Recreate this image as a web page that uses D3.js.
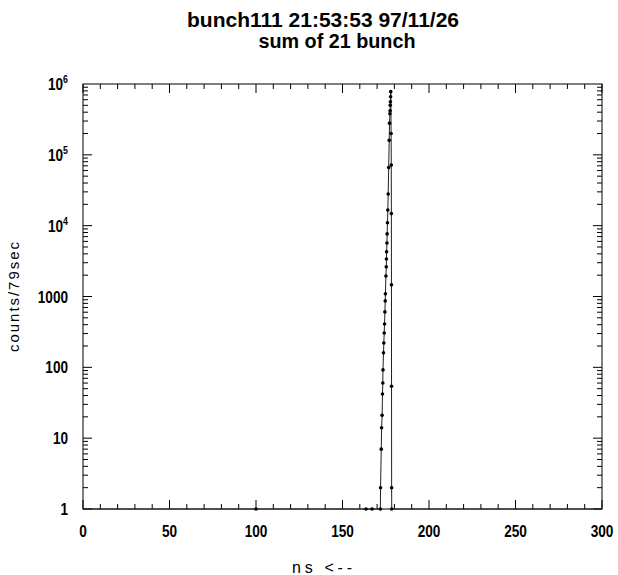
<!DOCTYPE html>
<html>
<head>
<meta charset="utf-8">
<script src="https://cdn.jsdelivr.net/npm/d3@7"></script>
<style>
  body { margin: 0; background: #fff; }
  svg text { font-family: "Liberation Sans Narrow", "Liberation Sans", Arial, sans-serif; fill: #000; }
</style>
</head>
<body>
<div id="chart"></div>
<script>
// histogram: time bin (ns) and counts per bin
var binNs = [0, 100, 161, 163.6, 167.1, 171.9, 172.0, 172.4, 172.6, 172.9, 173.1, 173.3, 173.4,
  173.7, 173.9, 174.1, 174.3, 174.5, 174.7, 174.8, 175.1, 175.3, 175.4, 175.5, 175.7, 175.8,
  176.0, 176.2, 176.4, 176.7, 177.0, 177.2, 177.4, 177.5, 177.6, 177.7, 177.8, 177.9,
  178.1, 178.2, 178.25, 178.3, 178.35, 178.4, 178.45, 300];
var binCounts = [0, 1, 0, 1, 1, 1, 2, 7, 14, 21, 42, 60, 92,
  160, 221, 306, 410, 606, 867, 1090, 1950, 2620, 3390, 4270, 5700, 7650,
  11000, 16600, 28000, 66000, 160000, 280000, 380000, 420000, 500000, 560000, 660000, 780000,
  200000, 72000, 14800, 1460, 54, 2, 1, 0];

var xTicks = [0, 50, 100, 150, 200, 250, 300];
var yTicks = [1, 10, 100, 1000, 1e4, 1e5, 1e6];
var yTickLabels = ["1", "10", "100", "1000", "10|4", "10|5", "10|6"];

var width = 618, height = 575;
var pLeft = 83, pRight = 602, pTop = 84, pBottom = 509;
var squeeze = 0.8; // narrow look of the plotter font

var svg = d3.select("#chart").append("svg")
  .attr("width", width)
  .attr("height", height);

var x = d3.scaleLinear().domain([0, 300]).range([pLeft, pRight]);
var y = d3.scaleLog().domain([1, 1e6]).range([pBottom, pTop]).clamp(true);

// title
svg.append("text").attr("x", 323).attr("y", 27)
  .attr("text-anchor", "middle").attr("font-size", 20).attr("font-weight", "bold")
  .attr("textLength", 272).attr("lengthAdjust", "spacingAndGlyphs")
  .text("bunch111 21:53:53 97/11/26");
svg.append("text").attr("x", 337).attr("y", 48)
  .attr("text-anchor", "middle").attr("font-size", 20).attr("font-weight", "bold")
  .attr("textLength", 157).attr("lengthAdjust", "spacingAndGlyphs")
  .text("sum of 21 bunch");

// frame
svg.append("rect")
  .attr("x", pLeft).attr("y", pTop)
  .attr("width", pRight - pLeft).attr("height", pBottom - pTop)
  .attr("fill", "none").attr("stroke", "#000").attr("stroke-width", 1);

// x ticks, inward, bottom and top
var xMinor = d3.range(0, 301, 10);
var gx = svg.append("g").attr("stroke", "#000").attr("stroke-width", 1);
xMinor.forEach(function(v) {
  var len = (v % 50 == 0) ? 9 : 5;
  gx.append("line").attr("x1", x(v)).attr("x2", x(v)).attr("y1", pBottom).attr("y2", pBottom - len);
  gx.append("line").attr("x1", x(v)).attr("x2", x(v)).attr("y1", pTop).attr("y2", pTop + len);
});

// y ticks (log), inward, left and right
var gy = svg.append("g").attr("stroke", "#000").attr("stroke-width", 1);
for (var e = 0; e < 6; e++) {
  for (var m = 1; m < 10; m++) {
    var v = m * Math.pow(10, e);
    var len = (m == 1) ? 9 : 5;
    gy.append("line").attr("x1", pLeft).attr("x2", pLeft + len).attr("y1", y(v)).attr("y2", y(v));
    gy.append("line").attr("x1", pRight).attr("x2", pRight - len).attr("y1", y(v)).attr("y2", y(v));
  }
}

// x tick labels
svg.selectAll(".xl").data(xTicks).enter().append("text")
  .attr("class", "xl")
  .attr("transform", function(d) { return "translate(" + x(d) + ",537) scale(" + squeeze + ",1)"; })
  .attr("text-anchor", "middle")
  .attr("font-size", 17).attr("font-weight", "bold")
  .text(function(d) { return d; });

// y tick labels, powers drawn with a superscript
svg.selectAll(".yl").data(yTicks).enter().append("text")
  .attr("class", "yl")
  .attr("transform", function(d) { return "translate(68," + (y(d) + 6) + ") scale(" + squeeze + ",1)"; })
  .attr("text-anchor", "end")
  .attr("font-size", 17).attr("font-weight", "bold")
  .each(function(d, i) {
    var parts = yTickLabels[i].split("|");
    var t = d3.select(this);
    if (parts.length == 1) {
      t.text(parts[0]);
    } else {
      t.append("tspan").text(parts[0]);
      t.append("tspan").attr("dy", -7).attr("font-size", 11).text(parts[1]);
    }
  });

// axis titles
svg.append("text").attr("x", 292).attr("y", 573)
  .attr("font-size", 16)
  .attr("textLength", 60).attr("lengthAdjust", "spacing")
  .text("ns  <--");
svg.append("text")
  .attr("transform", "translate(19,297) rotate(-90)")
  .attr("text-anchor", "middle").attr("font-size", 15)
  .attr("textLength", 110).attr("lengthAdjust", "spacing")
  .text("counts/79sec");

// data line (zero bins sit on the floor through the clamped scale)
var pts = binNs.map(function(n, i) { return { ns: n, c: binCounts[i] }; });
var line = d3.line()
  .x(function(d) { return x(d.ns); })
  .y(function(d) { return y(Math.max(d.c, 1)); });

svg.append("path")
  .datum(pts)
  .attr("d", line)
  .attr("fill", "none")
  .attr("stroke", "#222")
  .attr("stroke-width", 1);

svg.selectAll(".dot").data(pts.filter(function(d) { return d.c >= 1; }))
  .enter().append("circle")
  .attr("class", "dot")
  .attr("cx", function(d) { return x(d.ns); })
  .attr("cy", function(d) { return y(d.c); })
  .attr("r", 1.8)
  .attr("fill", "#000");
</script>
</body>
</html>
